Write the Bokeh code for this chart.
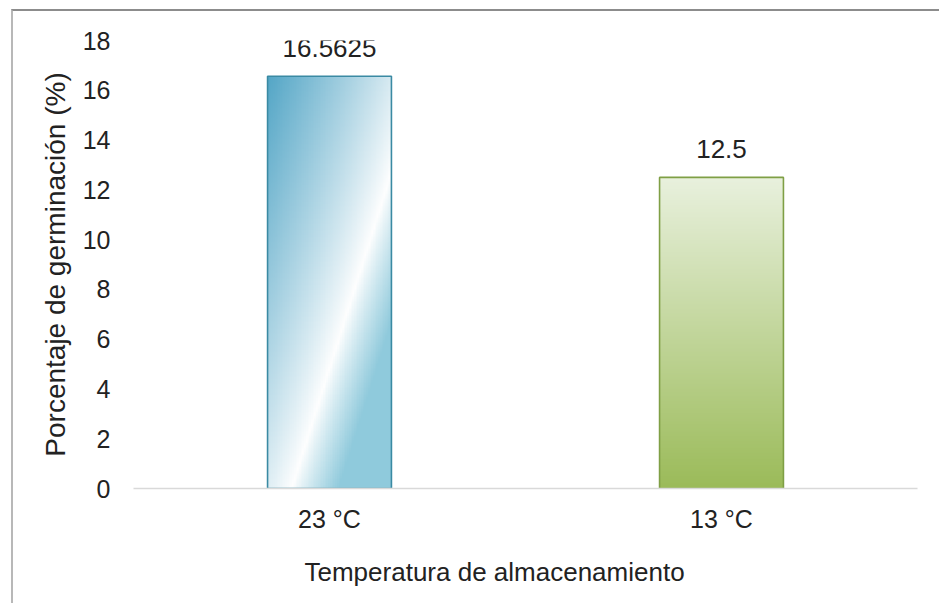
import numpy as np
from bokeh.plotting import figure
from bokeh.models import Range1d, FixedTicker, Title
from bokeh.core.properties import value
from bokeh.embed import file_html
from bokeh.resources import INLINE

# ---- data ----
categories = ["23 °C", "13 °C"]
germination = [16.5625, 12.5]
y_ticks = [0, 2, 4, 6, 8, 10, 12, 14, 16, 18]

x_title = "Temperatura de almacenamiento"
y_title = "Porcentaje de germinación (%)"

# ---- style ----
FONT = "Liberation Sans"
TEXT = "#222222"
BAR_WIDTH = 0.316
OUTLINES = ["#3a8aa3", "#7f9f45"]


def rgba_image(rgb):
    """Pack a float (h, w, 3) array into a uint32 RGBA image for image_rgba."""
    h, w, _ = rgb.shape
    img = np.empty((h, w), dtype=np.uint32)
    view = img.view(dtype=np.uint8).reshape((h, w, 4))
    view[:, :, :3] = np.clip(rgb, 0, 255).astype(np.uint8)
    view[:, :, 3] = 255
    return img


def blue_fill(h=240, w=72):
    # diagonal sheen: darker blue top-left, white streak, mid blue to the right
    py, px = np.mgrid[0:h, 0:w]
    X = (px + 0.5) / w * 124.0
    Y = (py + 0.5) / h * 413.0
    dx, dy = 100.0, 319.0
    n = np.hypot(dx, dy)
    d = ((X - 24.0) * dy - Y * dx) / n
    white = np.array([255.0, 255.0, 255.0])
    dark = np.array([80.0, 164.0, 197.0])
    right = np.array([143.0, 202.0, 220.0])
    s_left = np.clip(-d / 150.0, 0, 1) ** 0.9
    s_right = np.clip(d / 45.0, 0, 1) ** 0.9
    left_c = white + (dark - white) * s_left[..., None]
    right_c = white + (right - white) * s_right[..., None]
    rgb = np.where((d < 0)[..., None], left_c, right_c)
    return rgba_image(rgb)


def green_fill(h=240, w=72):
    # vertical gradient: pale at the top, olive green at the base
    v = (np.arange(h) + 0.5) / h
    top = np.array([233.0, 241.0, 222.0])
    bottom = np.array([155.0, 187.0, 89.0])
    col = bottom + (top - bottom) * v[:, None]
    rgb = np.repeat(col[:, None, :], w, axis=1)
    return rgba_image(rgb)


centers = [i + 0.5 for i in range(len(categories))]
lefts = [c - BAR_WIDTH / 2 for c in centers]
rights = [c + BAR_WIDTH / 2 for c in centers]

p = figure(width=928, height=594, output_backend="svg", toolbar_location=None,
           x_range=Range1d(0, len(categories)), y_range=Range1d(0, y_ticks[-1]),
           min_border_left=120, min_border_right=24, min_border_top=29,
           min_border_bottom=116)
p.background_fill_color = "white"
p.border_fill_color = "white"
p.outline_line_color = None
p.grid.visible = False
# chart area border (top and left edges fall inside the page)
p.styles = {"margin-left": "11px", "margin-top": "9px",
            "border-top": "2px solid #8c8c8c",
            "border-left": "2px solid #b8b8b8"}

# bar fills
fills = [blue_fill(), green_fill()]
for left, val, img in zip(lefts, germination, fills):
    p.image_rgba(image=[img], x=[left], y=[0], dw=[BAR_WIDTH], dh=[val])

# bar outlines
p.quad(left=lefts, right=rights, bottom=[0] * len(germination), top=germination,
       fill_alpha=0, line_color=OUTLINES, line_width=1.6)

# value labels
p.text(x=centers, y=germination, text=[f"{v:g}" for v in germination],
       text_align="center", text_baseline="alphabetic", y_offset=-28,
       text_font=value(FONT), text_font_size="26px", text_color=TEXT)

# axes
xa = p.xaxis[0]
xa.ticker = FixedTicker(ticks=centers)
xa.major_label_overrides = {c: lab for c, lab in zip(centers, categories)}
xa.axis_line_color = "#d9d9d9"
xa.axis_line_width = 1.5
xa.major_tick_line_color = None
xa.minor_tick_line_color = None
xa.major_tick_out = 0
xa.major_label_standoff = 16
xa.major_label_text_font = FONT
xa.major_label_text_font_size = "25px"
xa.major_label_text_color = TEXT

ya = p.yaxis[0]
ya.ticker = FixedTicker(ticks=y_ticks)
ya.axis_line_color = None
ya.major_tick_line_color = None
ya.minor_tick_line_color = None
ya.major_tick_out = 0
ya.major_label_standoff = 23
ya.major_label_text_font = FONT
ya.major_label_text_font_size = "25px"
ya.major_label_text_color = TEXT
ya.axis_label = y_title
ya.axis_label_standoff = 9
ya.axis_label_text_font = FONT
ya.axis_label_text_font_size = "28px"
ya.axis_label_text_font_style = "normal"
ya.axis_label_text_color = TEXT

p.add_layout(Title(text=x_title, align="left", offset=171, standoff=38,
                   text_font=FONT, text_font_size="26px",
                   text_font_style="normal", text_color=TEXT), "below")

open("out.html", "w").write(file_html(p, INLINE))
